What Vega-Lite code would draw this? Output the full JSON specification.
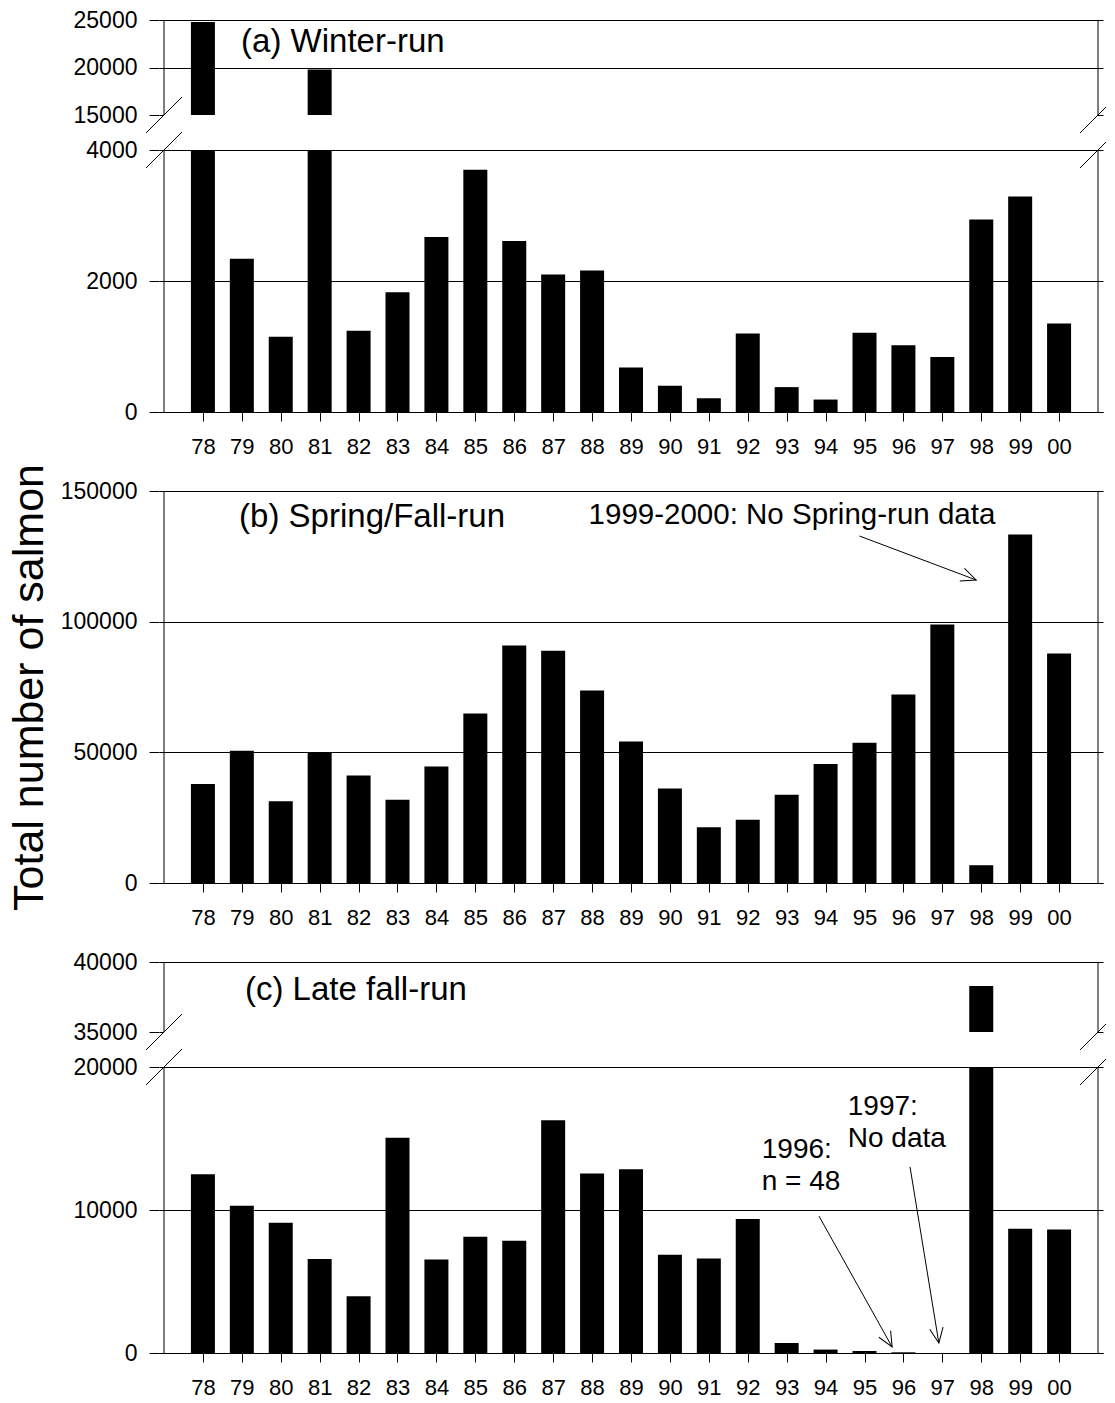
{
  "$schema": "https://vega.github.io/schema/vega-lite/v6.json",
  "background": "white",
  "padding": {"left": 8, "top": 9, "right": 0, "bottom": 0},
  "bounds": "flush",
  "spacing": 79,
  "config": {
    "view": {"stroke": null},
    "font": "Liberation Sans",
    "axis": {
      "labelFont": "Liberation Sans",
      "labelColor": "black",
      "tickColor": "black",
      "domainColor": "black",
      "gridColor": "black",
      "gridOpacity": 1,
      "labelOverlap": false,
      "titleFont": "Liberation Sans",
      "titleColor": "black",
      "titleFontWeight": "normal"
    },
    "axisY": {
      "tickSize": 10,
      "labelPadding": 12,
      "labelFontSize": 23,
      "format": "d",
      "domain": false,
      "grid": true,
      "zindex": 1
    },
    "axisX": {
      "tickSize": 9,
      "labelPadding": 15,
      "labelFontSize": 22,
      "grid": false,
      "domain": true,
      "zindex": 1
    }
  },
  "datasets": {
    "winter": [
      {"year": 1978, "n": 24800}, {"year": 1979, "n": 2340}, {"year": 1980, "n": 1150},
      {"year": 1981, "n": 19800}, {"year": 1982, "n": 1240}, {"year": 1983, "n": 1830},
      {"year": 1984, "n": 2670}, {"year": 1985, "n": 3700}, {"year": 1986, "n": 2610},
      {"year": 1987, "n": 2100}, {"year": 1988, "n": 2160}, {"year": 1989, "n": 680},
      {"year": 1990, "n": 400}, {"year": 1991, "n": 210}, {"year": 1992, "n": 1200},
      {"year": 1993, "n": 380}, {"year": 1994, "n": 190}, {"year": 1995, "n": 1210},
      {"year": 1996, "n": 1020}, {"year": 1997, "n": 840}, {"year": 1998, "n": 2940},
      {"year": 1999, "n": 3290}, {"year": 2000, "n": 1350}
    ],
    "springfall": [
      {"year": 1978, "n": 37900}, {"year": 1979, "n": 50600}, {"year": 1980, "n": 31300},
      {"year": 1981, "n": 49900}, {"year": 1982, "n": 41100}, {"year": 1983, "n": 31900},
      {"year": 1984, "n": 44600}, {"year": 1985, "n": 64900}, {"year": 1986, "n": 90900},
      {"year": 1987, "n": 88900}, {"year": 1988, "n": 73700}, {"year": 1989, "n": 54100},
      {"year": 1990, "n": 36200}, {"year": 1991, "n": 21300}, {"year": 1992, "n": 24200},
      {"year": 1993, "n": 33800}, {"year": 1994, "n": 45500}, {"year": 1995, "n": 53700},
      {"year": 1996, "n": 72100}, {"year": 1997, "n": 98900}, {"year": 1998, "n": 6800},
      {"year": 1999, "n": 133400}, {"year": 2000, "n": 87800}
    ],
    "latefall": [
      {"year": 1978, "n": 12500}, {"year": 1979, "n": 10300}, {"year": 1980, "n": 9110},
      {"year": 1981, "n": 6570}, {"year": 1982, "n": 3970}, {"year": 1983, "n": 15050},
      {"year": 1984, "n": 6540}, {"year": 1985, "n": 8130}, {"year": 1986, "n": 7850},
      {"year": 1987, "n": 16280}, {"year": 1988, "n": 12550}, {"year": 1989, "n": 12850},
      {"year": 1990, "n": 6870}, {"year": 1991, "n": 6610}, {"year": 1992, "n": 9370},
      {"year": 1993, "n": 700}, {"year": 1994, "n": 240}, {"year": 1995, "n": 140},
      {"year": 1996, "n": 48}, {"year": 1998, "n": 38290}, {"year": 1999, "n": 8690},
      {"year": 2000, "n": 8640}
    ]
  },
  "vconcat": [
    {
      "width": 944,
      "height": 392,
      "data": {"name": "winter"},
      "layer": [
        {
          "mark": {"type": "bar", "width": 24, "color": "black"},
          "encoding": {
            "x": {
              "field": "year", "type": "quantitative",
              "scale": {"domain": [1977, 2001], "nice": false, "zero": false},
              "axis": {
                "title": null,
                "values": [1978, 1979, 1980, 1981, 1982, 1983, 1984, 1985, 1986, 1987, 1988, 1989, 1990, 1991, 1992, 1993, 1994, 1995, 1996, 1997, 1998, 1999, 2000],
                "labelExpr": "substring(toString(datum.value), 2)"
              }
            },
            "y": {
              "field": "n", "type": "quantitative",
              "scale": {"domain": [0, 4000, 15000, 25000], "range": [392, 130, 95, 0], "nice": false},
              "axis": {"title": null, "values": [0, 2000, 4000, 15000, 20000, 25000]}
            }
          }
        },
        {
          "data": {"values": [{}]},
          "mark": {"type": "rect", "color": "white"},
          "encoding": {
            "x": {"datum": 1977}, "x2": {"datum": 2001},
            "y": {"datum": 4000}, "y2": {"datum": 15000}
          }
        },
        {
          "data": {"values": [
            {"edge": 1977, "lo": 0, "hi": 4000}, {"edge": 1977, "lo": 15000, "hi": 25000},
            {"edge": 2001, "lo": 0, "hi": 4000}, {"edge": 2001, "lo": 15000, "hi": 25000}
          ]},
          "mark": {"type": "rule", "color": "black", "strokeWidth": 1},
          "encoding": {
            "x": {"field": "edge", "type": "quantitative", "title": null},
            "y": {"field": "lo", "type": "quantitative", "title": null},
            "y2": {"field": "hi"}
          }
        },
        {
          "data": {"values": [{"edge": 1977, "at": 15000}, {"edge": 1977, "at": 4000}]},
          "mark": {"type": "rule", "color": "black", "strokeWidth": 1, "xOffset": -18, "x2Offset": 18, "yOffset": 18, "y2Offset": -18},
          "encoding": {
            "x": {"field": "edge", "type": "quantitative", "title": null}, "x2": {"field": "edge"},
            "y": {"field": "at", "type": "quantitative", "title": null}, "y2": {"field": "at"}
          }
        },
        {
          "data": {"values": [{"edge": 2001, "at": 15000}, {"edge": 2001, "at": 4000}]},
          "mark": {"type": "rule", "color": "black", "strokeWidth": 1, "xOffset": -18, "x2Offset": 8, "yOffset": 18, "y2Offset": -8},
          "encoding": {
            "x": {"field": "edge", "type": "quantitative", "title": null}, "x2": {"field": "edge"},
            "y": {"field": "at", "type": "quantitative", "title": null}, "y2": {"field": "at"}
          }
        },
        {
          "data": {"values": [{}]},
          "mark": {"type": "text", "text": "(a) Winter-run", "align": "left", "baseline": "alphabetic", "fontSize": 33, "color": "black"},
          "encoding": {"x": {"datum": 1978.98}, "y": {"datum": 21630}}
        }
      ]
    },
    {
      "width": 944,
      "height": 392,
      "data": {"name": "springfall"},
      "layer": [
        {
          "mark": {"type": "bar", "width": 24, "color": "black"},
          "encoding": {
            "x": {
              "field": "year", "type": "quantitative",
              "scale": {"domain": [1977, 2001], "nice": false, "zero": false},
              "axis": {
                "title": null,
                "values": [1978, 1979, 1980, 1981, 1982, 1983, 1984, 1985, 1986, 1987, 1988, 1989, 1990, 1991, 1992, 1993, 1994, 1995, 1996, 1997, 1998, 1999, 2000],
                "labelExpr": "substring(toString(datum.value), 2)"
              }
            },
            "y": {
              "field": "n", "type": "quantitative",
              "title": "Total number of salmon",
              "scale": {"domain": [0, 150000], "nice": false},
              "axis": {
                "title": "Total number of salmon",
                "titleFontSize": 43,
                "titlePadding": 9,
                "values": [0, 50000, 100000, 150000]
              }
            }
          }
        },
        {
          "data": {"values": [{"edge": 1977, "lo": 0, "hi": 150000}, {"edge": 2001, "lo": 0, "hi": 150000}]},
          "mark": {"type": "rule", "color": "black", "strokeWidth": 1},
          "encoding": {
            "x": {"field": "edge", "type": "quantitative", "title": null},
            "y": {"field": "lo", "type": "quantitative", "title": "Total number of salmon"},
            "y2": {"field": "hi"}
          }
        },
        {
          "data": {"values": [{}]},
          "mark": {"type": "text", "text": "(b) Spring/Fall-run", "align": "left", "baseline": "alphabetic", "fontSize": 33, "color": "black"},
          "encoding": {"x": {"datum": 1978.93}, "y": {"datum": 136220}}
        },
        {
          "data": {"values": [{}]},
          "mark": {"type": "text", "text": "1999-2000: No Spring-run data", "align": "left", "baseline": "alphabetic", "fontSize": 29.5, "color": "black"},
          "encoding": {"x": {"datum": 1987.91}, "y": {"datum": 137370}}
        },
        {
          "data": {"values": [{}]},
          "mark": {"type": "rule", "color": "black", "strokeWidth": 1},
          "encoding": {
            "x": {"datum": 1994.87}, "x2": {"datum": 1997.87},
            "y": {"datum": 132780}, "y2": {"datum": 115940}
          }
        },
        {
          "data": {"values": [{}]},
          "mark": {"type": "point", "shape": "M -1 -0.45 L 0 0 L -1 0.45", "size": 900, "angle": 20.4, "filled": false, "color": "black", "strokeWidth": 1, "opacity": 1},
          "encoding": {"x": {"datum": 1997.87}, "y": {"datum": 115940}}
        }
      ]
    },
    {
      "width": 944,
      "height": 391,
      "data": {"name": "latefall"},
      "layer": [
        {
          "mark": {"type": "bar", "width": 24, "color": "black"},
          "encoding": {
            "x": {
              "field": "year", "type": "quantitative",
              "scale": {"domain": [1977, 2001], "nice": false, "zero": false},
              "axis": {
                "title": null,
                "values": [1978, 1979, 1980, 1981, 1982, 1983, 1984, 1985, 1986, 1987, 1988, 1989, 1990, 1991, 1992, 1993, 1994, 1995, 1996, 1997, 1998, 1999, 2000],
                "labelExpr": "substring(toString(datum.value), 2)"
              }
            },
            "y": {
              "field": "n", "type": "quantitative",
              "scale": {"domain": [0, 20000, 35000, 40000], "range": [391, 105, 70, 0], "nice": false},
              "axis": {"title": null, "values": [0, 10000, 20000, 35000, 40000]}
            }
          }
        },
        {
          "data": {"values": [{}]},
          "mark": {"type": "rect", "color": "white"},
          "encoding": {
            "x": {"datum": 1977}, "x2": {"datum": 2001},
            "y": {"datum": 20000}, "y2": {"datum": 35000}
          }
        },
        {
          "data": {"values": [
            {"edge": 1977, "lo": 0, "hi": 20000}, {"edge": 1977, "lo": 35000, "hi": 40000},
            {"edge": 2001, "lo": 0, "hi": 20000}, {"edge": 2001, "lo": 35000, "hi": 40000}
          ]},
          "mark": {"type": "rule", "color": "black", "strokeWidth": 1},
          "encoding": {
            "x": {"field": "edge", "type": "quantitative", "title": null},
            "y": {"field": "lo", "type": "quantitative", "title": null},
            "y2": {"field": "hi"}
          }
        },
        {
          "data": {"values": [{"edge": 1977, "at": 35000}, {"edge": 1977, "at": 20000}]},
          "mark": {"type": "rule", "color": "black", "strokeWidth": 1, "xOffset": -18, "x2Offset": 18, "yOffset": 18, "y2Offset": -18},
          "encoding": {
            "x": {"field": "edge", "type": "quantitative", "title": null}, "x2": {"field": "edge"},
            "y": {"field": "at", "type": "quantitative", "title": null}, "y2": {"field": "at"}
          }
        },
        {
          "data": {"values": [{"edge": 2001, "at": 35000}, {"edge": 2001, "at": 20000}]},
          "mark": {"type": "rule", "color": "black", "strokeWidth": 1, "xOffset": -18, "x2Offset": 8, "yOffset": 18, "y2Offset": -8},
          "encoding": {
            "x": {"field": "edge", "type": "quantitative", "title": null}, "x2": {"field": "edge"},
            "y": {"field": "at", "type": "quantitative", "title": null}, "y2": {"field": "at"}
          }
        },
        {
          "data": {"values": [{}]},
          "mark": {"type": "text", "text": "(c) Late fall-run", "align": "left", "baseline": "alphabetic", "fontSize": 33, "color": "black"},
          "encoding": {"x": {"datum": 1979.08}, "y": {"datum": 37290}}
        },
        {
          "data": {"values": [{}]},
          "mark": {"type": "text", "text": ["1996:", "n = 48"], "align": "left", "baseline": "alphabetic", "fontSize": 28, "lineHeight": 32, "color": "black"},
          "encoding": {"x": {"datum": 1992.36}, "y": {"datum": 13640}}
        },
        {
          "data": {"values": [{}]},
          "mark": {"type": "text", "text": ["1997:", "No data"], "align": "left", "baseline": "alphabetic", "fontSize": 28, "lineHeight": 32, "color": "black"},
          "encoding": {"x": {"datum": 1994.57}, "y": {"datum": 16640}}
        },
        {
          "data": {"values": [{}]},
          "mark": {"type": "rule", "color": "black", "strokeWidth": 1},
          "encoding": {
            "x": {"datum": 1993.83}, "x2": {"datum": 1995.71},
            "y": {"datum": 9580}, "y2": {"datum": 420}
          }
        },
        {
          "data": {"values": [{}]},
          "mark": {"type": "point", "shape": "M -1 -0.45 L 0 0 L -1 0.45", "size": 900, "angle": 60.5, "filled": false, "color": "black", "strokeWidth": 1, "opacity": 1},
          "encoding": {"x": {"datum": 1995.71}, "y": {"datum": 420}}
        },
        {
          "data": {"values": [{}]},
          "mark": {"type": "rule", "color": "black", "strokeWidth": 1},
          "encoding": {
            "x": {"datum": 1996.17}, "x2": {"datum": 1996.91},
            "y": {"datum": 13010}, "y2": {"datum": 700}
          }
        },
        {
          "data": {"values": [{}]},
          "mark": {"type": "point", "shape": "M -1 -0.45 L 0 0 L -1 0.45", "size": 900, "angle": 80.6, "filled": false, "color": "black", "strokeWidth": 1, "opacity": 1},
          "encoding": {"x": {"datum": 1996.91}, "y": {"datum": 700}}
        }
      ]
    }
  ]
}
